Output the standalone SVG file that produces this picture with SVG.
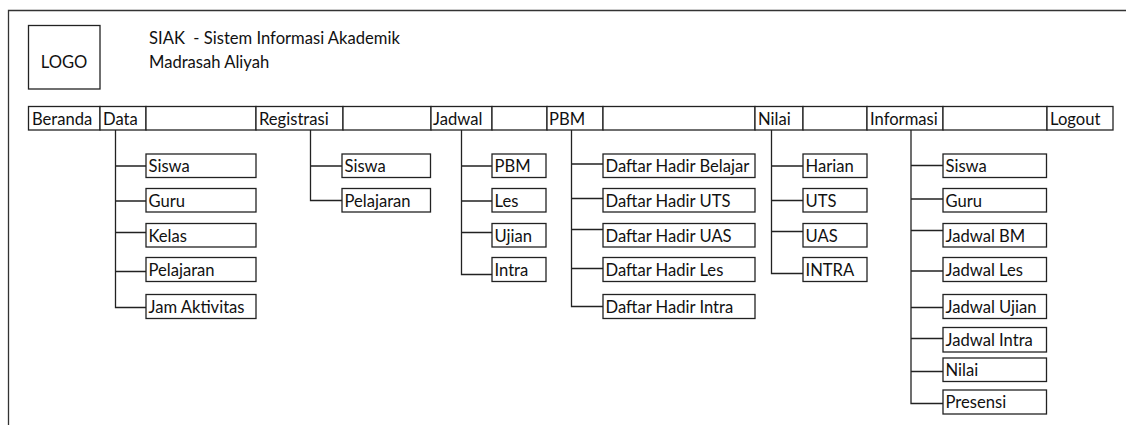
<svg xmlns="http://www.w3.org/2000/svg" width="1126" height="425" viewBox="0 0 1126 425">
<style>
  .box{fill:#fff;stroke:#222;stroke-width:1.3}
  .frame{fill:none;stroke:#333;stroke-width:1.3}
  .t{font-family:Lato,"Open Sans","Liberation Sans",sans-serif;font-size:16.6px;fill:#111;white-space:pre}
  .c{fill:none;stroke:#222;stroke-width:1.3}
</style>
<rect width="1126" height="425" fill="#fff"/>
<g id="frame">
  <path class="frame" d="M8.5,425 V10.5 H1126"/>
</g>
<g id="logo">
  <rect class="box" x="28.5" y="25.5" width="71.5" height="63.5"/>
  <text class="t" x="64" y="68" text-anchor="middle">LOGO</text>
</g>
<g id="title">
  <text class="t" x="149" y="44" xml:space="preserve">SIAK  - Sistem Informasi Akademik</text>
  <text class="t" x="149" y="67.5">Madrasah Aliyah</text>
</g>
<g id="menu">
  <g id="m-beranda"><rect class="box" x="28.5" y="106.5" width="71.5" height="23.5"/><text class="t" x="32" y="124.5">Beranda</text></g>
  <g id="m-data"><rect class="box" x="100" y="106.5" width="46" height="23.5"/><text class="t" x="103" y="124.5">Data</text></g>
  <g id="m-gap1"><rect class="box" x="146" y="106.5" width="110" height="23.5"/></g>
  <g id="m-registrasi"><rect class="box" x="256" y="106.5" width="87" height="23.5"/><text class="t" x="259" y="124.5">Registrasi</text></g>
  <g id="m-gap2"><rect class="box" x="343" y="106.5" width="88" height="23.5"/></g>
  <g id="m-jadwal"><rect class="box" x="431" y="106.5" width="61" height="23.5"/><text class="t" x="433" y="124.5">Jadwal</text></g>
  <g id="m-gap3"><rect class="box" x="492" y="106.5" width="55" height="23.5"/></g>
  <g id="m-pbm"><rect class="box" x="547" y="106.5" width="56" height="23.5"/><text class="t" x="549" y="124.5">PBM</text></g>
  <g id="m-gap4"><rect class="box" x="603" y="106.5" width="152" height="23.5"/></g>
  <g id="m-nilai"><rect class="box" x="755" y="106.5" width="48" height="23.5"/><text class="t" x="758" y="124.5">Nilai</text></g>
  <g id="m-gap5"><rect class="box" x="803" y="106.5" width="64" height="23.5"/></g>
  <g id="m-informasi"><rect class="box" x="867" y="106.5" width="76" height="23.5"/><text class="t" x="870" y="124.5">Informasi</text></g>
  <g id="m-gap6"><rect class="box" x="943" y="106.5" width="104" height="23.5"/></g>
  <g id="m-logout"><rect class="box" x="1047" y="106.5" width="66" height="23.5"/><text class="t" x="1050" y="124.5">Logout</text></g>
</g>
<g id="connectors">
  <path class="c" d="M115.5,130 V307.5 H146 M115.5,166 H146 M115.5,201 H146 M115.5,232.5 H146 M115.5,271.5 H146"/>
  <path class="c" d="M310.5,130 V200.5 H342 M310.5,166 H342"/>
  <path class="c" d="M461.5,130 V274.5 H492 M461.5,166 H492 M461.5,201 H492 M461.5,232.5 H492"/>
  <path class="c" d="M571.5,130 V306.5 H603 M571.5,164 H603 M571.5,198.5 H603 M571.5,229.5 H603 M571.5,268.5 H603"/>
  <path class="c" d="M771.5,130 V273.5 H803 M771.5,166 H803 M771.5,200.5 H803 M771.5,231.5 H803"/>
  <path class="c" d="M911,130 V403.5 H943 M911,165.5 H943 M911,199 H943 M911,230.5 H943 M911,271 H943 M911,307.5 H943 M911,338.5 H943 M911,371.5 H943"/>
</g>
<g id="data-items">
  <g id="d-siswa"><rect class="box" x="146" y="154" width="110" height="23.5"/><text class="t" x="148.5" y="172">Siswa</text></g>
  <g id="d-guru"><rect class="box" x="146" y="188.5" width="110" height="23.5"/><text class="t" x="148.5" y="206.5">Guru</text></g>
  <g id="d-kelas"><rect class="box" x="146" y="223.5" width="110" height="23.5"/><text class="t" x="148.5" y="241.5">Kelas</text></g>
  <g id="d-pelajaran"><rect class="box" x="146" y="257.5" width="110" height="24"/><text class="t" x="148.5" y="275.5">Pelajaran</text></g>
  <g id="d-jam"><rect class="box" x="146" y="294.5" width="110" height="24"/><text class="t" x="148.5" y="312.5">Jam Aktivitas</text></g>
</g>
<g id="registrasi-items">
  <g id="r-siswa"><rect class="box" x="342" y="154" width="88.5" height="23.5"/><text class="t" x="344.5" y="172">Siswa</text></g>
  <g id="r-pelajaran"><rect class="box" x="342" y="188.5" width="88.5" height="23.5"/><text class="t" x="344.5" y="206.5">Pelajaran</text></g>
</g>
<g id="jadwal-items">
  <g id="j-pbm"><rect class="box" x="492" y="154" width="54" height="23.5"/><text class="t" x="494.5" y="172">PBM</text></g>
  <g id="j-les"><rect class="box" x="492" y="188.5" width="54" height="23.5"/><text class="t" x="494.5" y="206.5">Les</text></g>
  <g id="j-ujian"><rect class="box" x="492" y="223.5" width="54" height="23.5"/><text class="t" x="494.5" y="241.5">Ujian</text></g>
  <g id="j-intra"><rect class="box" x="492" y="257.5" width="54" height="24"/><text class="t" x="494.5" y="275.5">Intra</text></g>
</g>
<g id="pbm-items">
  <g id="p-belajar"><rect class="box" x="603" y="154" width="152" height="23.5"/><text class="t" x="605.5" y="172">Daftar Hadir Belajar</text></g>
  <g id="p-uts"><rect class="box" x="603" y="188.5" width="152" height="23.5"/><text class="t" x="605.5" y="206.5">Daftar Hadir UTS</text></g>
  <g id="p-uas"><rect class="box" x="603" y="223.5" width="152" height="23.5"/><text class="t" x="605.5" y="241.5">Daftar Hadir UAS</text></g>
  <g id="p-les"><rect class="box" x="603" y="257.5" width="152" height="24"/><text class="t" x="605.5" y="275.5">Daftar Hadir Les</text></g>
  <g id="p-intra"><rect class="box" x="603" y="294.5" width="152" height="24"/><text class="t" x="605.5" y="312.5">Daftar Hadir Intra</text></g>
</g>
<g id="nilai-items">
  <g id="n-harian"><rect class="box" x="803" y="154" width="64" height="23.5"/><text class="t" x="805.5" y="172">Harian</text></g>
  <g id="n-uts"><rect class="box" x="803" y="188.5" width="64" height="23.5"/><text class="t" x="805.5" y="206.5">UTS</text></g>
  <g id="n-uas"><rect class="box" x="803" y="223.5" width="64" height="23.5"/><text class="t" x="805.5" y="241.5">UAS</text></g>
  <g id="n-intra"><rect class="box" x="803" y="257.5" width="64" height="24"/><text class="t" x="805.5" y="275.5">INTRA</text></g>
</g>
<g id="informasi-items">
  <g id="i-siswa"><rect class="box" x="943" y="154" width="103.5" height="23.5"/><text class="t" x="945.5" y="172">Siswa</text></g>
  <g id="i-guru"><rect class="box" x="943" y="188.5" width="103.5" height="23.5"/><text class="t" x="945.5" y="206.5">Guru</text></g>
  <g id="i-jbm"><rect class="box" x="943" y="223.5" width="103.5" height="23.5"/><text class="t" x="945.5" y="241.5">Jadwal BM</text></g>
  <g id="i-jles"><rect class="box" x="943" y="257.5" width="103.5" height="24"/><text class="t" x="945.5" y="275.5">Jadwal Les</text></g>
  <g id="i-jujian"><rect class="box" x="943" y="294.5" width="103.5" height="24"/><text class="t" x="945.5" y="312.5">Jadwal Ujian</text></g>
  <g id="i-jintra"><rect class="box" x="943" y="327.5" width="103.5" height="24.5"/><text class="t" x="945.5" y="345.5">Jadwal Intra</text></g>
  <g id="i-nilai"><rect class="box" x="943" y="358" width="103.5" height="23.5"/><text class="t" x="945.5" y="376">Nilai</text></g>
  <g id="i-presensi"><rect class="box" x="943" y="390" width="103.5" height="24"/><text class="t" x="945.5" y="408">Presensi</text></g>
</g>
</svg>
